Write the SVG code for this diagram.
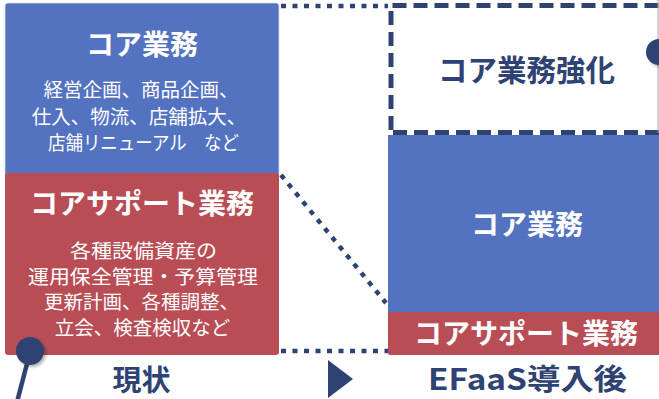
<svg xmlns="http://www.w3.org/2000/svg" width="659" height="399" viewBox="0 0 659 399">
<style>
  .t { font-family: "Noto Sans CJK JP", "Noto Sans", sans-serif; text-anchor: middle; }
  .title { font-weight: 700; font-size: 28px; fill: #ffffff; }
  .body { font-weight: 400; font-size: 19.5px; fill: #ffffff; }
  .navy { font-weight: 700; fill: #2e4373; }
  .dot { fill: none; stroke: #2e4373; stroke-width: 4.5; stroke-dasharray: 5 6.5; }
  .dash { fill: none; stroke: #2e4373; stroke-width: 5; stroke-dasharray: 14 7; }
</style>
<defs>
  <filter id="shadow" x="-50%" y="-50%" width="200%" height="200%">
    <feDropShadow dx="2" dy="2" stdDeviation="1.5" flood-color="#000000" flood-opacity="0.3"/>
  </filter>
</defs>
<rect width="659" height="399" fill="#ffffff"/>

<g id="connectors">
  <line class="dot" x1="281" y1="6" x2="388" y2="6"/>
  <line class="dot" x1="281" y1="175" x2="386" y2="303"/>
  <line class="dot" x1="281" y1="351" x2="388" y2="351"/>
</g>

<g id="left-core">
  <rect x="5" y="3" width="274" height="176" rx="3" fill="#5372c0" stroke="#d9d9d9" stroke-width="0.8"/>
  <text class="t title" x="142" y="55">コア業務</text>
  <text class="t body" x="141" y="97">経営企画、商品企画、</text>
  <text class="t body" x="139" y="124">仕入、物流、店舗拡大、</text>
  <text class="t body" x="143.5" y="150" textLength="191" lengthAdjust="spacingAndGlyphs">店舗リニューアル　など</text>
</g>

<g id="left-support">
  <rect x="5" y="173" width="274" height="182" rx="3" fill="#b84d56"/>
  <text class="t title" x="142" y="214">コアサポート業務</text>
  <text class="t body" x="143.5" y="258" textLength="147" lengthAdjust="spacingAndGlyphs">各種設備資産の</text>
  <text class="t body" x="143" y="284" textLength="230" lengthAdjust="spacingAndGlyphs">運用保全管理・予算管理</text>
  <text class="t body" x="141.5" y="309">更新計画、各種調整、</text>
  <text class="t body" x="142.5" y="335">立会、検査検収など</text>
</g>

<g id="right-enhance">
  <path class="dash" d="M391 130 V5.5 H662"/>
  <path class="dash" d="M393 132.5 H662"/>
  <line x1="658" y1="0" x2="658" y2="133" stroke="#a6a6a6" stroke-width="1"/>
  <text class="t navy" x="526.5" y="81" font-size="29.5">コア業務強化</text>
</g>

<g id="right-core">
  <rect x="388" y="135" width="275" height="178" fill="#5372c0"/>
  <text class="t title" x="527" y="235">コア業務</text>
</g>

<g id="right-support">
  <rect x="388" y="312" width="275" height="43" rx="2" fill="#b84d56"/>
  <text class="t title" x="526" y="344" font-size="27">コアサポート業務</text>
</g>

<g id="markers">
  <line x1="28" y1="360" x2="17" y2="402" stroke="#2e4373" stroke-width="4.5"/>
  <circle cx="30" cy="351" r="14" fill="#2e4373" filter="url(#shadow)"/>
  <circle cx="659" cy="52" r="13" fill="#2e4373" filter="url(#shadow)"/>
  <polygon points="328,360 353,379 328,398" fill="#2e4373"/>
</g>

<g id="labels">
  <text class="t navy" x="141.5" y="391" font-size="29">現状</text>
  <text class="t navy" x="527.5" y="390" font-size="29" textLength="199" lengthAdjust="spacingAndGlyphs">EFaaS導入後</text>
</g>
</svg>
